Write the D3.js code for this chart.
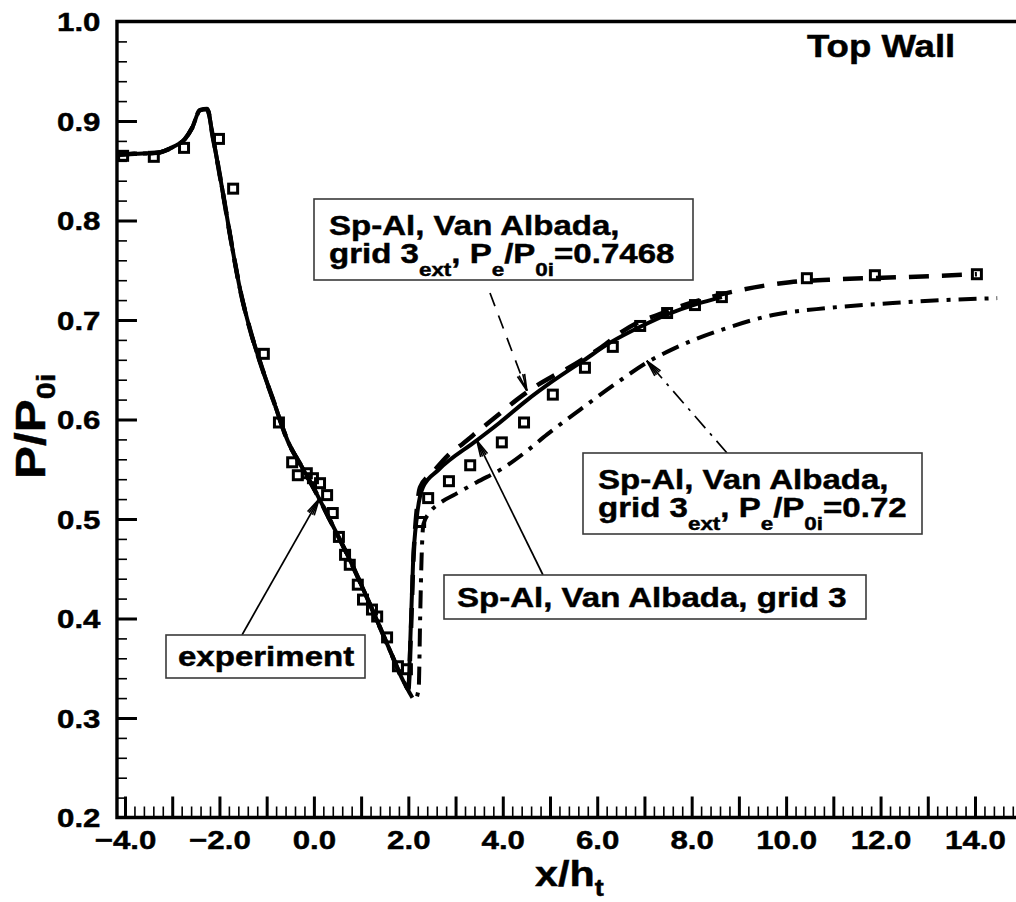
<!DOCTYPE html>
<html>
<head>
<meta charset="utf-8">
<script src="https://cdn.jsdelivr.net/npm/d3@7"></script>
<style>
  html, body { margin: 0; padding: 0; background: #fff; }
  svg { display: block; background: #fff; }
  text { font-family: "Liberation Sans", Arial, Helvetica, sans-serif; font-weight: bold; fill: #000;
         stroke: #000; stroke-width: 0.45px; }
</style>
</head>
<body>
<svg id="chart" width="1016" height="902"></svg>
<script>
// ---- data: wall pressure ratio P/P0i along x/h_t ----
const experiment = [
  [-4.04, 0.865], [-3.39, 0.864], [-2.75, 0.873], [-2.01, 0.882], [-1.71, 0.832],
  [-1.06, 0.666], [-0.74, 0.597], [-0.46, 0.557], [-0.34, 0.544], [-0.15, 0.546],
  [-0.02, 0.541], [0.13, 0.536], [0.28, 0.524], [0.40, 0.506], [0.53, 0.482],
  [0.66, 0.464], [0.76, 0.454], [0.93, 0.434], [1.04, 0.419], [1.23, 0.409],
  [1.34, 0.402], [1.55, 0.381], [1.78, 0.352], [1.97, 0.349], [2.25, 0.497],
  [2.42, 0.521], [2.86, 0.538], [3.31, 0.554], [3.98, 0.577], [4.45, 0.597],
  [5.06, 0.625], [5.74, 0.652], [6.33, 0.673], [6.91, 0.694], [7.48, 0.707],
  [8.07, 0.715], [8.64, 0.723], [10.44, 0.742], [11.88, 0.745], [14.04, 0.746]
];

// Sp-Al, Van Albada, grid 3
const grid3 = [
  [-4.17, 0.866], [-3.80, 0.867], [-3.32, 0.868], [-2.98, 0.874], [-2.73, 0.882],
  [-2.58, 0.893], [-2.41, 0.911], [-2.26, 0.912], [-2.14, 0.884], [-1.95, 0.834],
  [-1.73, 0.773], [-1.56, 0.730], [-1.35, 0.690], [-1.10, 0.652], [-0.85, 0.618],
  [-0.55, 0.578], [-0.25, 0.552], [0.04, 0.527], [0.34, 0.499], [0.76, 0.459],
  [1.19, 0.414], [1.61, 0.368], [1.93, 0.334], [2.00, 0.329], [2.04, 0.375],
  [2.10, 0.456], [2.18, 0.502], [2.31, 0.532], [2.63, 0.549], [3.45, 0.579],
  [3.94, 0.597], [4.50, 0.619], [5.04, 0.638], [5.70, 0.659], [6.30, 0.678],
  [6.90, 0.693], [7.50, 0.706], [8.10, 0.716], [8.64, 0.723]
];

// Sp-Al, Van Albada, grid 3ext, Pe/P0i = 0.7468
const grid3Ext7468 = [
  [-4.17, 0.866], [-3.80, 0.867], [-3.32, 0.868], [-2.98, 0.874], [-2.73, 0.882],
  [-2.58, 0.893], [-2.41, 0.911], [-2.26, 0.912], [-2.14, 0.884], [-1.95, 0.834],
  [-1.73, 0.773], [-1.56, 0.730], [-1.35, 0.690], [-1.10, 0.652], [-0.85, 0.618],
  [-0.55, 0.578], [-0.25, 0.552], [0.04, 0.527], [0.34, 0.499], [0.76, 0.459],
  [1.19, 0.414], [1.61, 0.368], [1.93, 0.334], [2.00, 0.329], [2.05, 0.380],
  [2.11, 0.462], [2.18, 0.510], [2.25, 0.532], [2.52, 0.547], [2.84, 0.564],
  [3.16, 0.576], [3.52, 0.590], [3.94, 0.606], [4.30, 0.620], [4.65, 0.632],
  [5.04, 0.643], [5.36, 0.651], [5.78, 0.663], [6.10, 0.673], [6.52, 0.688],
  [6.84, 0.697], [7.27, 0.705], [7.71, 0.713], [8.10, 0.719], [9.02, 0.730],
  [10.08, 0.738], [11.14, 0.741], [12.41, 0.743], [14.04, 0.746]
];

// Sp-Al, Van Albada, grid 3ext, Pe/P0i = 0.72
const grid3Ext72 = [
  [-4.17, 0.866], [-3.80, 0.867], [-3.32, 0.868], [-2.98, 0.874], [-2.73, 0.882],
  [-2.58, 0.893], [-2.41, 0.911], [-2.26, 0.912], [-2.14, 0.884], [-1.95, 0.834],
  [-1.73, 0.773], [-1.56, 0.730], [-1.35, 0.690], [-1.10, 0.652], [-0.85, 0.618],
  [-0.55, 0.578], [-0.25, 0.552], [0.04, 0.527], [0.34, 0.499], [0.76, 0.459],
  [1.19, 0.414], [1.61, 0.368], [1.93, 0.334], [2.03, 0.325], [2.14, 0.318],
  [2.22, 0.330], [2.25, 0.400], [2.28, 0.460], [2.32, 0.495], [2.46, 0.507],
  [2.67, 0.516], [3.00, 0.525], [3.45, 0.537], [4.00, 0.551], [4.50, 0.568],
  [4.94, 0.585], [5.64, 0.610], [6.42, 0.637], [7.08, 0.658], [7.61, 0.671],
  [8.75, 0.692], [9.72, 0.705], [10.87, 0.712], [12.26, 0.717], [13.32, 0.720],
  [14.47, 0.722]
];

const xMajorTicks = d3.range(-4, 15, 1);
const xLabelTicks = [-4, -2, 0, 2, 4, 6, 8, 10, 12, 14];
const yMajorTicks = [0.2, 0.3, 0.4, 0.5, 0.6, 0.7, 0.8, 0.9, 1.0];

// ---- layout ----
const W = 1016, H = 902;
const SX = 1.18;                       // horizontal stretch of the bold lettering
const x = d3.scaleLinear().domain([-4, 14]).range([125, 975]);
const y = d3.scaleLinear().domain([0.2, 1.0]).range([817.5, 21.5]);
const xLo = -4.17, xHi = 15.2;
const X0 = x(xLo), X1 = x(xHi), Y0 = y(0.2), Y1 = y(1.0);

const svg = d3.select("#chart").attr("width", W).attr("height", H);
svg.append("rect").attr("width", W).attr("height", H).attr("fill", "#fff");

// text with optional subscripts: parts = [[string, isSub], ...]
function richText(parent, px, py, parts, size, subSize, subOff, anchor, rot) {
  const t = parent.append("text")
    .attr("transform", `translate(${px},${py})${rot ? ` rotate(${rot})` : ""} scale(${SX},1)`)
    .attr("text-anchor", anchor || "start")
    .attr("xml:space", "preserve")
    .style("font-size", size + "px");
  let shift = 0;
  parts.forEach(([s, sub]) => {
    const sp = t.append("tspan").text(s);
    if (sub) {
      sp.style("font-size", subSize + "px");
      if (shift !== subOff) sp.attr("dy", subOff - shift);
      shift = subOff;
    } else if (shift) {
      sp.attr("dy", -shift);
      shift = 0;
    }
  });
  return t;
}

// ---- minor ticks ----
const xMinor = d3.range(-4.2, 15.01, 0.2).map(v => +v.toFixed(1))
  .filter(v => Math.abs(v - Math.round(v)) > 1e-6 && x(v) > X0 + 2 && x(v) < W + 5);
const yMinor = d3.range(0.2, 1.001, 0.02).map(v => +v.toFixed(2))
  .filter(v => Math.abs(v * 10 - Math.round(v * 10)) > 1e-6);

const gxMinor = svg.append("g").attr("transform", `translate(0,${Y0})`)
  .call(d3.axisBottom(x).tickValues(xMinor).tickSize(-11).tickSizeOuter(0).tickFormat(""));
gxMinor.select(".domain").remove();
gxMinor.selectAll("line").attr("stroke-width", 1.6);

const gyMinor = svg.append("g").attr("transform", `translate(${X0},0)`)
  .call(d3.axisLeft(y).tickValues(yMinor).tickSize(-10).tickSizeOuter(0).tickFormat(""));
gyMinor.select(".domain").remove();
gyMinor.selectAll("line").attr("stroke-width", 1.6);

// ---- major ticks + labels ----
const fmt = d3.format(".1f");
const gx = svg.append("g").attr("transform", `translate(0,${Y0})`)
  .call(d3.axisBottom(x).tickValues(xMajorTicks).tickSize(-21).tickSizeOuter(0)
    .tickPadding(12.5).tickFormat(d => xLabelTicks.includes(d) ? fmt(d) : ""));
gx.select(".domain").remove();
gx.selectAll("line").attr("stroke-width", 3);
gx.selectAll("text")
  .attr("transform", `scale(${SX},1)`)
  .attr("x", 0)
  .style("font-size", "26.5px");

const gy = svg.append("g").attr("transform", `translate(${X0},0)`)
  .call(d3.axisLeft(y).tickValues(yMajorTicks).tickSize(-20).tickSizeOuter(0)
    .tickPadding(16.5).tickFormat(fmt));
gy.select(".domain").remove();
gy.selectAll("line").attr("stroke-width", 3)
  .filter(d => d === 0.2 || d === 1.0).remove();
gy.selectAll("text")
  .attr("x", -16.5 / SX)
  .attr("dy", "0.34em")
  .attr("transform", `scale(${SX},1)`)
  .style("font-size", "26.5px");

// ---- frame ----
svg.append("path")
  .attr("d", `M${X1},${Y1}H${X0}V${Y0}H${X1}`)
  .attr("fill", "none").attr("stroke", "#000").attr("stroke-width", 3.4)
  .attr("stroke-linecap", "square");

// ---- curves ----
const line = d3.line().x(d => x(d[0])).y(d => y(d[1])).curve(d3.curveMonotoneX);

svg.append("path").datum(grid3).attr("d", line)
  .attr("fill", "none").attr("stroke", "#000").attr("stroke-width", 4)
  .attr("stroke-linejoin", "round");

svg.append("path").datum(grid3Ext7468).attr("d", line)
  .attr("fill", "none").attr("stroke", "#000").attr("stroke-width", 4.5)
  .attr("stroke-dasharray", "20,13");

svg.append("path").datum(grid3Ext72).attr("d", line)
  .attr("fill", "none").attr("stroke", "#000").attr("stroke-width", 4)
  .attr("stroke-dasharray", "18,8,4,8");

// experiment symbols
svg.append("g").selectAll("rect").data(experiment).join("rect")
  .attr("x", d => x(d[0]) - 4.5).attr("y", d => y(d[1]) - 4.5)
  .attr("width", 9).attr("height", 9)
  .attr("fill", "none").attr("stroke", "#000").attr("stroke-width", 3);

// ---- annotation boxes & leader arrows ----
function arrow(from, tipData, dash) {
  const tx = x(tipData[0]), ty = y(tipData[1]);
  svg.append("line")
    .attr("x1", from[0]).attr("y1", from[1]).attr("x2", tx).attr("y2", ty)
    .attr("stroke", "#000").attr("stroke-width", 1.7)
    .attr("stroke-dasharray", dash || null);
  const ang = Math.atan2(from[1] - ty, from[0] - tx);
  const L = 17, a = 13 * Math.PI / 180;
  [-a, -a / 2, a / 2, a].forEach(da => {
    svg.append("line")
      .attr("x1", tx).attr("y1", ty)
      .attr("x2", tx + L * Math.cos(ang + da)).attr("y2", ty + L * Math.sin(ang + da))
      .attr("stroke", "#000").attr("stroke-width", 1.6);
  });
}
function box(x0, y0, x1, y1) {
  svg.append("rect").attr("x", x0).attr("y", y0)
    .attr("width", x1 - x0).attr("height", y1 - y0)
    .attr("fill", "#fff").attr("stroke", "#3a3a3a").attr("stroke-width", 1.6);
}

arrow([490, 293], [4.51, 0.629], "14,10");
arrow([727, 453], [7.05, 0.659], "16,7,3,7");
arrow([543, 575], [3.45, 0.579]);
arrow([242, 635], [0.11, 0.520]);

box(314, 199, 693, 280);
richText(svg, 329, 235, [["Sp-Al, Van Albada,"]], 28, 19, 13);
richText(svg, 329, 263, [["grid 3"], ["ext", 1], [", P"], ["e", 1], ["/P"], ["0i", 1], ["=0.7468"]], 28, 19, 13);

box(583, 453, 922, 534);
richText(svg, 598, 489, [["Sp-Al, Van Albada,"]], 28, 19, 13);
richText(svg, 598, 517, [["grid 3"], ["ext", 1], [", P"], ["e", 1], ["/P"], ["0i", 1], ["=0.72"]], 28, 19, 13);

box(444, 575, 866, 619);
richText(svg, 457, 607, [["Sp-Al, Van Albada, grid 3"]], 28, 19, 13);

box(166, 635, 365, 678);
richText(svg, 178, 666, [["experiment"]], 28, 19, 13);

// ---- titles ----
richText(svg, 807, 57, [["Top Wall"]], 31, 20, 0);
richText(svg, 535, 886, [["x/h"], ["t", 1]], 35, 23, 10);
richText(svg, 45, 479, [["P/P"], ["0i", 1]], 42, 26, 10, "start", -90);
</script>
</body>
</html>
